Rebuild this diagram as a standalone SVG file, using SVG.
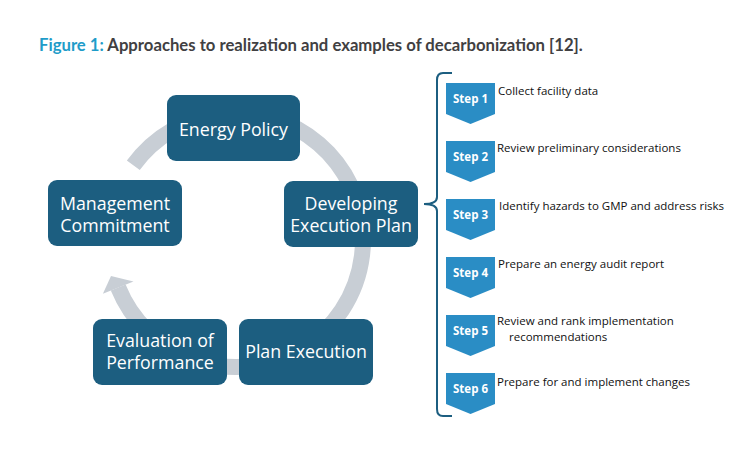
<svg xmlns="http://www.w3.org/2000/svg" width="750" height="450" viewBox="0 0 750 450">
<style>
.title{font-family:Lato,"Open Sans",sans-serif;font-size:16.7px;font-weight:bold;fill:#414042}
.fig{fill:#1e9cc9}
.node rect{fill:#1c5e80}
.node text{font-family:"Open Sans","Noto Sans",sans-serif;font-size:17.8px;fill:#ffffff;text-anchor:middle}
.step polygon{fill:#2a8dc5}
.step .lbl{font-family:"Open Sans","Noto Sans",sans-serif;font-size:11.5px;font-weight:bold;fill:#ffffff;text-anchor:middle}
.step .desc{font-family:"Open Sans","Noto Sans",sans-serif;font-size:11.5px;fill:#111111}
</style>
<rect width="750" height="450" fill="#ffffff"/>
<text class="title" x="39" y="51"><tspan class="fig">Figure 1:</tspan> Approaches to realization and examples of decarbonization [12].</text>
<g id="connectors">
<path d="M133.3,165.3 A127,127 0 1 1 118.2,287.6" fill="none" stroke="#c8ced5" stroke-width="16"/>
<polygon points="102.9,293.8 111,276 133.5,281.4" fill="#c8ced5"/>
<path id="brace" d="M452,73 L443,73 Q437,73 437,80 L437,197 Q437,204 424,204 Q437,204 437,211 L437,409 Q437,416 443,416 L452,416" fill="none" stroke="#1c5e80" stroke-width="2"/>
</g>
<g id="energy-policy" class="node"><rect x="167" y="95" width="133" height="66" rx="9"/><text x="233.5" y="136">Energy Policy</text></g>
<g id="developing" class="node"><rect x="284" y="181" width="134" height="66" rx="9"/><text x="351" y="210">Developing</text><text x="351" y="232">Execution Plan</text></g>
<g id="plan-execution" class="node"><rect x="239" y="319" width="134" height="66" rx="9"/><text x="306" y="358">Plan Execution</text></g>
<g id="evaluation" class="node"><rect x="93" y="319" width="134" height="66" rx="9"/><text x="160" y="347">Evaluation of</text><text x="160" y="369">Performance</text></g>
<g id="management" class="node"><rect x="48" y="180" width="134" height="66" rx="9"/><text x="115" y="210">Management</text><text x="115" y="232">Commitment</text></g>
<g id="step1" class="step"><polygon points="446,83 495,83 495,114 470.5,124 446,114"/><text class="lbl" x="470.5" y="103">Step 1</text><text class="desc" x="498" y="95">Collect facility data</text></g>
<g id="step2" class="step"><polygon points="446,141 495,141 495,172 470.5,182 446,172"/><text class="lbl" x="470.5" y="161">Step 2</text><text class="desc" x="497" y="152">Review preliminary considerations</text></g>
<g id="step3" class="step"><polygon points="446,199 495,199 495,230 470.5,240 446,230"/><text class="lbl" x="470.5" y="219">Step 3</text><text class="desc" x="499" y="210">Identify hazards to GMP and address risks</text></g>
<g id="step4" class="step"><polygon points="446,257 495,257 495,288 470.5,298 446,288"/><text class="lbl" x="470.5" y="277">Step 4</text><text class="desc" x="498" y="268">Prepare an energy audit report</text></g>
<g id="step5" class="step"><polygon points="446,315 495,315 495,346 470.5,356 446,346"/><text class="lbl" x="470.5" y="335">Step 5</text><text class="desc" x="497" y="325">Review and rank implementation</text><text class="desc" x="509" y="341">recommendations</text></g>
<g id="step6" class="step"><polygon points="446,373 495,373 495,404 470.5,414 446,404"/><text class="lbl" x="470.5" y="393">Step 6</text><text class="desc" x="497" y="386">Prepare for and implement changes</text></g>
</svg>
